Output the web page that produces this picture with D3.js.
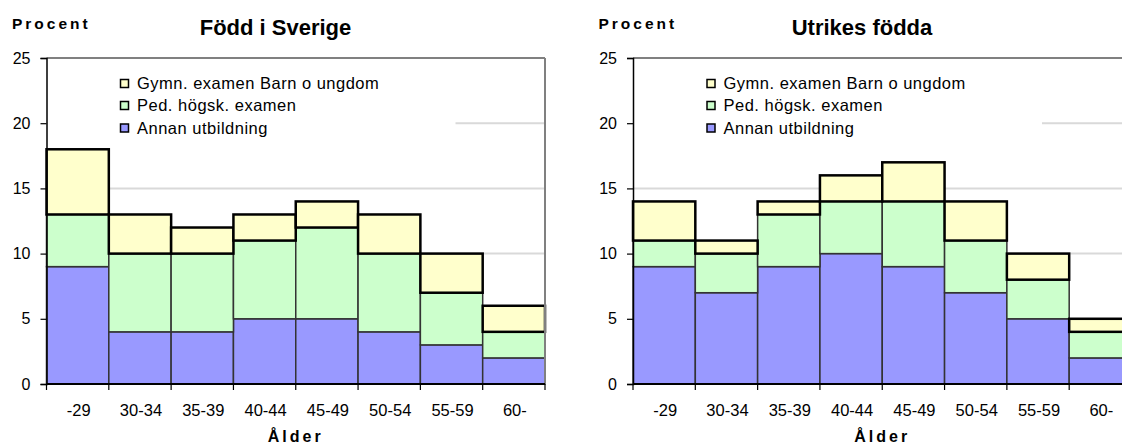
<!DOCTYPE html>
<html>
<head>
<meta charset="utf-8">
<script src="https://cdn.jsdelivr.net/npm/d3@7"></script>
<style>
  html, body { margin: 0; padding: 0; background: #fff; }
  svg { display: block; font-family: "Liberation Sans", Arial, sans-serif; }
</style>
</head>
<body>
<svg id="chart" width="1122" height="444"></svg>
<script>
// ---- Data ----
const ageGroups = ["-29", "30-34", "35-39", "40-44", "45-49", "50-54", "55-59", "60-"];
const seriesKeys = ["annan", "ped", "gymn"];
const seriesLabels = {
  gymn: "Gymn. examen Barn o ungdom",
  ped: "Ped. högsk. examen",
  annan: "Annan utbildning"
};
const legendOrder = ["gymn", "ped", "annan"];
const seriesColors = { annan: "#9999ff", ped: "#ccffcc", gymn: "#ffffcc" };

// Född i Sverige
const svAnnan = [9, 4, 4, 5, 5, 4, 3, 2];
const svPed   = [4, 6, 6, 6, 7, 6, 4, 2];
const svGymn  = [5, 3, 2, 2, 2, 3, 3, 2];

// Utrikes födda
const utAnnan = [9, 7, 9, 10, 9, 7, 5, 2];
const utPed   = [2, 3, 4, 4, 5, 4, 3, 2];
const utGymn  = [3, 1, 1, 2, 3, 3, 2, 1];

const yTicks = [0, 5, 10, 15, 20, 25];
const gridTicks = [5, 10, 15, 20];
const yMax = 25;

const titles = ["Född i Sverige", "Utrikes födda"];
const yLabel = "Procent";
const xLabel = "Ålder";

// ---- Drawing ----
const svg = d3.select("#chart");

function drawPanel(axisX, title, annan, ped, gymn) {
  const plotW = 498.5, top = 58, bottom = 384;
  const rows = ageGroups.map((a, i) => ({ age: a, annan: annan[i], ped: ped[i], gymn: gymn[i] }));
  const x = d3.scaleBand().domain(ageGroups).range([axisX, axisX + plotW]).padding(0);
  const y = d3.scaleLinear().domain([0, yMax]).range([bottom, top]);
  const g = svg.append("g");

  // gridlines
  g.append("g").selectAll("line").data(gridTicks).join("line")
    .attr("x1", axisX).attr("x2", axisX + plotW)
    .attr("y1", d => y(d)).attr("y2", d => y(d))
    .attr("stroke", "#d9d9d9").attr("stroke-width", 2);

  // legend background (covers gridlines, as in the original)
  g.append("rect").attr("x", axisX + 1).attr("y", top + 4)
    .attr("width", 408).attr("height", 80).attr("fill", "#fff");

  // stacked bars
  const stacked = d3.stack().keys(seriesKeys)(rows);
  stacked.forEach(layer => {
    const key = layer.key;
    g.append("g").selectAll("rect").data(layer).join("rect")
      .attr("x", d => x(d.data.age))
      .attr("width", x.bandwidth())
      .attr("y", d => y(d[1]))
      .attr("height", d => y(d[0]) - y(d[1]))
      .attr("fill", seriesColors[key])
      .attr("stroke", key === "gymn" ? "#000" : "#333")
      .attr("stroke-width", key === "gymn" ? 2.5 : 1.5);
  });

  // top and right plot border
  g.append("line").attr("x1", axisX).attr("x2", axisX + plotW)
    .attr("y1", top).attr("y2", top).attr("stroke", "#808080").attr("stroke-width", 2);
  g.append("line").attr("x1", axisX + plotW).attr("x2", axisX + plotW)
    .attr("y1", top).attr("y2", bottom).attr("stroke", "#808080").attr("stroke-width", 2);

  // y axis
  const yAxis = d3.axisLeft(y).tickValues(yTicks).tickSize(6).tickPadding(10);
  const ya = g.append("g").attr("transform", `translate(${axisX},0)`).call(yAxis);
  ya.select(".domain").attr("stroke", "#000").attr("stroke-width", 1.5);
  ya.selectAll(".tick line").attr("stroke", "#000").attr("stroke-width", 1.2);
  ya.selectAll(".tick text").attr("font-size", 16).attr("fill", "#000")
    .attr("font-family", "Liberation Sans, Arial, sans-serif");

  // x axis baseline
  g.append("line").attr("x1", axisX).attr("x2", axisX + plotW)
    .attr("y1", bottom).attr("y2", bottom).attr("stroke", "#000").attr("stroke-width", 2);
  // boundary ticks
  const bounds = ageGroups.map(a => x(a)).concat([axisX + plotW]);
  g.append("g").selectAll("line").data(bounds).join("line")
    .attr("x1", d => d).attr("x2", d => d)
    .attr("y1", bottom).attr("y2", bottom + 6)
    .attr("stroke", "#000").attr("stroke-width", 1.2);
  // category labels
  g.append("g").selectAll("text").data(ageGroups).join("text")
    .attr("x", d => x(d) + x.bandwidth() / 2 + 1)
    .attr("y", 416)
    .attr("text-anchor", "middle")
    .attr("font-size", 16.5)
    .attr("fill", "#000")
    .text(d => d);

  // axis titles
  g.append("text").attr("x", axisX + plotW / 2).attr("y", 442)
    .attr("text-anchor", "middle").attr("font-size", 16).attr("font-weight", "bold")
    .attr("letter-spacing", 3).text(xLabel);
  g.append("text").attr("x", axisX - 34.5).attr("y", 29)
    .attr("font-size", 15.5).attr("font-weight", "bold")
    .attr("letter-spacing", 3).text(yLabel);

  // chart title
  g.append("text").attr("x", axisX + 229).attr("y", 35)
    .attr("text-anchor", "middle").attr("font-size", 22).attr("font-weight", "bold")
    .text(title);

  // legend
  const leg = g.append("g");
  const rowsY = [83.5, 105.5, 128];
  legendOrder.forEach((key, i) => {
    leg.append("rect").attr("x", axisX + 74).attr("y", rowsY[i] - 4)
      .attr("width", 8).attr("height", 8)
      .attr("fill", seriesColors[key]).attr("stroke", "#000").attr("stroke-width", 1.5);
    leg.append("text").attr("x", axisX + 90.5).attr("y", rowsY[i] + 5.5)
      .attr("font-size", 16.5).attr("letter-spacing", 0.5).attr("fill", "#000")
      .text(seriesLabels[key]);
  });
}

drawPanel(46.5, titles[0], svAnnan, svPed, svGymn);
drawPanel(633, titles[1], utAnnan, utPed, utGymn);
</script>
</body>
</html>
